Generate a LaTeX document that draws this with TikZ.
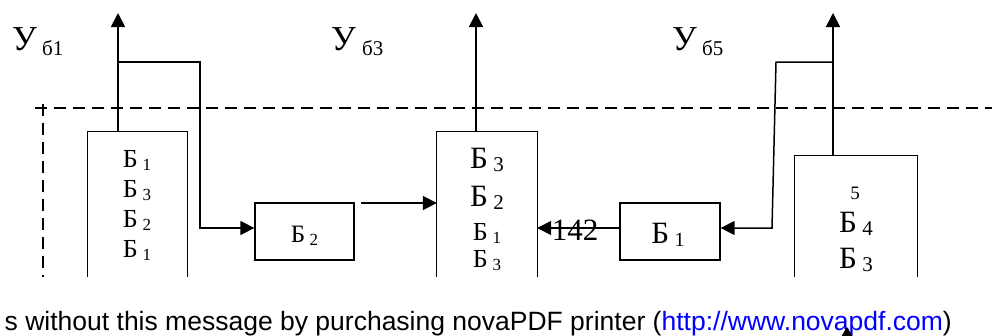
\documentclass[tikz,border=0pt]{standalone}
\usepackage{fontspec}
\setmainfont{Liberation Serif}
\newfontfamily\wmfont{Liberation Sans}
\usetikzlibrary{arrows.meta}
\definecolor{linkblue}{RGB}{0,0,255}
\newcommand\fs[1]{\fontsize{#1}{#1}\selectfont}
\newcommand\BB[3]{\fs{#1}Б\hspace{0.18em}\raisebox{-3pt}{\fs{#2}#3}}
\begin{document}
\begin{tikzpicture}[x=1pt,y=-1pt,
  boxline/.style={line width=1.3pt},
  opennode/.style={draw=none,inner sep=0pt},
  closedbox/.style={draw,line width=1.3pt,inner sep=0pt,minimum width=99pt,minimum height=57pt},
  txt/.style={anchor=base,inner sep=0pt},
  varr/.style={line width=1.8pt,-{Triangle[length=14pt,width=14pt]}},
  harr/.style={line width=1.8pt,-{Triangle[length=14pt,width=14pt]}},
  warr/.style={line width=1.5pt,-{Triangle[length=14pt,width=14pt]}},
  dashline/.style={line width=1.8pt,dash pattern=on 12pt off 7pt}]
\fill[white] (0,0) rectangle (992,335);
\useasboundingbox (0,0) rectangle (992,335);
% dashed frame
\coordinate (dh1) at (35,108);
\coordinate (dh2) at (992,108);
\coordinate (dv1) at (43,104);
\coordinate (dv2) at (43,277);
\draw[dashline] (dh1) -- (dh2);
\draw[dashline] (dv1) -- (dv2);
% open-bottom boxes
\node[opennode,minimum width=99pt,minimum height=145pt] (box1) at (137.5,204.5) {};
\node[opennode,minimum width=100pt,minimum height=145pt] (box3) at (487,204.5) {};
\node[opennode,minimum width=122pt,minimum height=121pt] (box5) at (856,216.5) {};
\draw[boxline] (box1.south west) -- (box1.north west) -- (box1.north east) -- (box1.south east);
\draw[boxline] (box3.south west) -- (box3.north west) -- (box3.north east) -- (box3.south east);
\draw[boxline] (box5.south west) -- (box5.north west) -- (box5.north east) -- (box5.south east);
% closed boxes
\node[closedbox] (box2) at (304.5,231.5) {};
\node[closedbox,minimum width=100pt] (boxb) at (670,231.5) {};
% outputs
\coordinate (out1) at (118,13);
\coordinate (out3) at (476,13);
\coordinate (out5) at (833,13);
\draw[varr] (box1.north -| out1) -- (out1);
\draw[varr] (box3.north -| out3) -- (out3);
\draw[varr] (box5.north -| out5) -- (out5);
% wires
\coordinate (y228) at (0,228);
\coordinate (w1a) at (118,62);
\coordinate (w1b) at (200,62);
\coordinate (w1c) at (200,228);
\draw[warr] (w1a) -- (w1b) -- (w1c) -- (box2.west |- y228);
\coordinate (a2s) at (361,203);
\draw[harr] (a2s) -- (box3.west |- a2s);
\draw[warr] (boxb.west |- y228) -- (box3.east |- y228);
\coordinate (w5a) at (833,62);
\coordinate (w5b) at (776,62);
\coordinate (w5c) at (772,228);
\draw[warr] (w5a) -- (w5b) -- (w5c) -- (boxb.east |- y228);
\node[txt] (n142) at (575,240) {\fs{31}142};
% labels
\node[anchor=base west,inner sep=0pt] (u1) at (12,50) {\fs{35}У};
\node[anchor=base west,inner sep=0pt] (u1s) at (42,55) {\fs{21}б1};
\node[anchor=base west,inner sep=0pt] (u3) at (331,50) {\fs{35}У};
\node[anchor=base west,inner sep=0pt] (u3s) at (362,55) {\fs{21}б3};
\node[anchor=base west,inner sep=0pt] (u5) at (672,50) {\fs{35}У};
\node[anchor=base west,inner sep=0pt] (u5s) at (702,55) {\fs{21}б5};
% box 1 text
\node[txt] (t11) at (137,167) {\BB{26}{17}{1}};
\node[txt] (t12) at (137,197) {\BB{26}{17}{3}};
\node[txt] (t13) at (137,227) {\BB{26}{17}{2}};
\node[txt] (t14) at (137,257) {\BB{26}{17}{1}};
% box 3 text
\node[txt] (t31) at (487,168) {\BB{31}{21}{3}};
\node[txt] (t32) at (487,206) {\BB{31}{21}{2}};
\node[txt] (t33) at (487,240) {\BB{26}{17}{1}};
\node[txt] (t34) at (487,267) {\BB{26}{17}{3}};
% box 5 text
\node[txt] (t51) at (855,199) {\fs{19}5};
\node[txt] (t52) at (856,232) {\BB{31}{21}{4}};
\node[txt] (t53) at (856,268) {\BB{31}{21}{3}};
% small boxes text
\node[txt] (t2) at (304.5,242) {\BB{25}{17}{2}};
\node[txt] (tb) at (668,243) {\BB{31}{20}{1}};
% watermark
\node[anchor=base east,inner sep=0pt] (wm) at (952,330) {\wmfont\fs{26.5}s without this message by purchasing novaPDF printer (\textcolor{linkblue}{http://www.novapdf.com})};
\fill (847,327) -- (841,337) -- (853,337) -- cycle;
\end{tikzpicture}
\end{document}
